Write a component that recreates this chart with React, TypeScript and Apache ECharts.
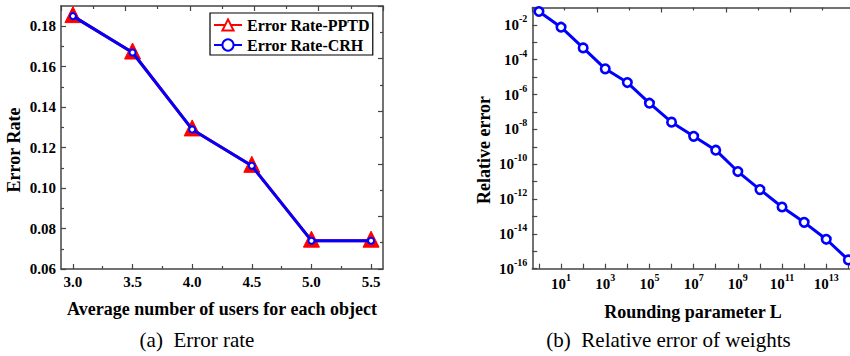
import React, { useEffect, useRef } from "react";
import * as echarts from "echarts";

// ---- Chart (a) data ----
const usersPerObject = [3.0, 3.5, 4.0, 4.5, 5.0, 5.5];
const errorRatePPTD = [0.185, 0.167, 0.129, 0.111, 0.074, 0.074];
const errorRateCRH = [0.185, 0.167, 0.129, 0.111, 0.074, 0.074];
const xTicksA = [3.0, 3.5, 4.0, 4.5, 5.0, 5.5];
const xMinorA = [3.25, 3.75, 4.25, 4.75, 5.25];
const yTicksA = [0.06, 0.08, 0.1, 0.12, 0.14, 0.16, 0.18];
const yMinorA = [0.07, 0.09, 0.11, 0.13, 0.15, 0.17];

// ---- Chart (b) data ----
const roundingL = [1, 1e1, 1e2, 1e3, 1e4, 1e5, 1e6, 1e7, 1e8, 1e9, 1e10, 1e11, 1e12, 1e13, 1e14];
const relativeError = [5.9e-2, 7.4e-3, 4.8e-4, 3.0e-5, 4.9e-6, 3.2e-7, 2.6e-8, 4.0e-9, 6.4e-10, 3.8e-11, 3.5e-12, 3.5e-13, 4.6e-14, 4.9e-15, 3.2e-16];
const xTicksB = [1, 1e1, 1e2, 1e3, 1e4, 1e5, 1e6, 1e7, 1e8, 1e9, 1e10, 1e11, 1e12, 1e13, 1e14];
const xLabelsB = [1e1, 1e3, 1e5, 1e7, 1e9, 1e11, 1e13];
const yTicksB = [1e-16, 1e-15, 1e-14, 1e-13, 1e-12, 1e-11, 1e-10, 1e-9, 1e-8, 1e-7, 1e-6, 1e-5, 1e-4, 1e-3, 1e-2, 1e-1];
const yLabelsB = [1e-16, 1e-14, 1e-12, 1e-10, 1e-8, 1e-6, 1e-4, 1e-2];

const SERIF = "'Liberation Serif', 'Times New Roman', serif";
const AX = "#444";

export default function App() {
  const ref = useRef<HTMLDivElement>(null);
  useEffect(() => {
    if (!ref.current) return;
    const chart = echarts.init(ref.current, null, { renderer: "svg" });

    const axisLine = { show: true, lineStyle: { color: AX, width: 1.5 } };
    const tickBase = { show: true, inside: true, length: 5, lineStyle: { color: AX, width: 1.2 } };
    const minorBase = { show: true, splitNumber: 2, length: 3, lineStyle: { color: AX, width: 1.2 } };
    const labelFont = { fontFamily: SERIF, fontWeight: "bold" as const, fontSize: 15, color: "#000" };
    const supRich = {
      b: { fontFamily: SERIF, fontWeight: "bold" as const, fontSize: 15, color: "#000" },
      s: { fontFamily: SERIF, fontWeight: "bold" as const, fontSize: 10, color: "#000", padding: [0, 0, 13, 0] },
    };
    const powLabel = (v: number) => `{b|10}{s|${Math.round(Math.log10(v))}}`;

    const option: any = {
      animation: false,
      grid: [
        { left: 61, top: 6, width: 322, height: 263, outerBoundsMode: "none", containLabel: false },
        { left: 532.3, top: 7.5, width: 322.7, height: 261.2, outerBoundsMode: "none", containLabel: false },
      ],
      xAxis: [
        {
          type: "value", gridIndex: 0, position: "bottom", min: 2.9, max: 5.6,
          axisLine, splitLine: { show: false },
          axisTick: { ...tickBase, customValues: xTicksA },
          axisLabel: { ...labelFont, margin: 5, customValues: xTicksA, formatter: (v: number) => v.toFixed(1) },
        },
        {
          type: "value", gridIndex: 0, position: "bottom", min: 2.9, max: 5.6,
          axisLine: { show: false }, splitLine: { show: false },
          axisTick: { ...tickBase, length: 3, customValues: xMinorA },
          axisLabel: { show: false },
        },
        {
          type: "value", gridIndex: 0, position: "top", min: 0, max: 10, interval: 2,
          axisLine, splitLine: { show: false },
          axisTick: tickBase, minorTick: minorBase, axisLabel: { show: false },
        },
        {
          type: "log", gridIndex: 1, position: "bottom", min: 0.5, max: 2e14, logBase: 10,
          axisLine, splitLine: { show: false }, minorTick: { show: false },
          axisTick: { ...tickBase, customValues: xTicksB },
          axisLabel: { margin: 4, customValues: xLabelsB, formatter: powLabel, rich: supRich },
        },
        {
          type: "value", gridIndex: 1, position: "top", min: 0, max: 10, interval: 2,
          axisLine, splitLine: { show: false },
          axisTick: tickBase, minorTick: minorBase, axisLabel: { show: false },
        },
      ],
      yAxis: [
        {
          type: "value", gridIndex: 0, position: "left", min: 0.06, max: 0.19,
          axisLine, splitLine: { show: false },
          axisTick: { ...tickBase, customValues: yTicksA },
          axisLabel: { ...labelFont, margin: 5, customValues: yTicksA, formatter: (v: number) => v.toFixed(2) },
        },
        {
          type: "value", gridIndex: 0, position: "left", min: 0.06, max: 0.19,
          axisLine: { show: false }, splitLine: { show: false },
          axisTick: { ...tickBase, length: 3, customValues: yMinorA },
          axisLabel: { show: false },
        },
        {
          type: "value", gridIndex: 0, position: "right", min: 0, max: 10, interval: 2,
          axisLine, splitLine: { show: false },
          axisTick: tickBase, minorTick: minorBase, axisLabel: { show: false },
        },
        {
          type: "log", gridIndex: 1, position: "left", min: 1e-16, max: 1e-1, logBase: 10,
          axisLine, splitLine: { show: false }, minorTick: { show: false },
          axisTick: { ...tickBase, customValues: yTicksB },
          axisLabel: { margin: 5, customValues: yLabelsB, formatter: powLabel, rich: supRich },
        },
        {
          type: "value", gridIndex: 1, position: "right", min: 0, max: 10, interval: 2,
          axisLine, splitLine: { show: false },
          axisTick: tickBase, minorTick: minorBase, axisLabel: { show: false },
        },
      ],
      legend: {
        orient: "vertical",
        left: 210, top: 13,
        padding: [4, 3, 2, 3],
        itemGap: 4,
        itemWidth: 28, itemHeight: 14,
        borderColor: "#000", borderWidth: 1.2,
        backgroundColor: "#fff",
        textStyle: { fontFamily: SERIF, fontWeight: "bold", fontSize: 16, color: "#000" },
        data: [
          { name: "Error Rate-PPTD", itemStyle: { color: "#fff", borderColor: "#ff0000", borderWidth: 2 } },
          { name: "Error Rate-CRH", itemStyle: { color: "#fff", borderColor: "#0000ff", borderWidth: 2 } },
        ],
      },
      series: [
        {
          name: "Error Rate-PPTD", type: "line", xAxisIndex: 0, yAxisIndex: 0, z: 2,
          data: usersPerObject.map((x, i) => [x, errorRatePPTD[i]]),
          symbol: "triangle", symbolSize: 16, symbolOffset: [0, -1.5],
          lineStyle: { color: "#ff0000", width: 3 },
          itemStyle: { color: "#ff0000", borderColor: "#ff0000", borderWidth: 1 },
        },
        {
          name: "Error Rate-CRH", type: "line", xAxisIndex: 0, yAxisIndex: 0, z: 3,
          data: usersPerObject.map((x, i) => [x, errorRateCRH[i]]),
          symbol: "circle", symbolSize: 6,
          lineStyle: { color: "#0000ff", width: 3 },
          itemStyle: { color: "#fff", borderColor: "#0000ff", borderWidth: 2 },
        },
        {
          name: "Relative error", type: "line", xAxisIndex: 3, yAxisIndex: 3, z: 3,
          data: roundingL.map((x, i) => [x, relativeError[i]]),
          symbol: "circle", symbolSize: 8.5, clip: false,
          lineStyle: { color: "#0000ff", width: 3 },
          itemStyle: { color: "#fff", borderColor: "#0000ff", borderWidth: 2.6 },
        },
      ],
      graphic: [
        { type: "text", x: 14, y: 150, rotation: Math.PI / 2, style: { text: "Error Rate", font: `bold 18px ${SERIF}`, fill: "#000", textAlign: "center", verticalAlign: "middle" } },
        { type: "text", x: 222, y: 309, style: { text: "Average number of users for each object", font: `bold 18px ${SERIF}`, fill: "#000", textAlign: "center", verticalAlign: "middle" } },
        { type: "text", x: 484, y: 150, rotation: Math.PI / 2, style: { text: "Relative error", font: `bold 18px ${SERIF}`, fill: "#000", textAlign: "center", verticalAlign: "middle" } },
        { type: "text", x: 693, y: 311.5, style: { text: "Rounding parameter L", font: `bold 18px ${SERIF}`, fill: "#000", textAlign: "center", verticalAlign: "middle" } },
        { type: "text", x: 197, y: 340, style: { text: "(a)\u2002Error rate", font: `21px ${SERIF}`, fill: "#000", textAlign: "center", verticalAlign: "middle" } },
        { type: "text", x: 668.5, y: 340, style: { text: "(b)\u2002Relative error of weights", font: `21px ${SERIF}`, fill: "#000", textAlign: "center", verticalAlign: "middle" } },
      ],
    };
    chart.setOption(option);
    return () => chart.dispose();
  }, []);
  return <div ref={ref} style={{ width: 850, height: 356, position: "absolute", left: 0, top: 0 }} />;
}
